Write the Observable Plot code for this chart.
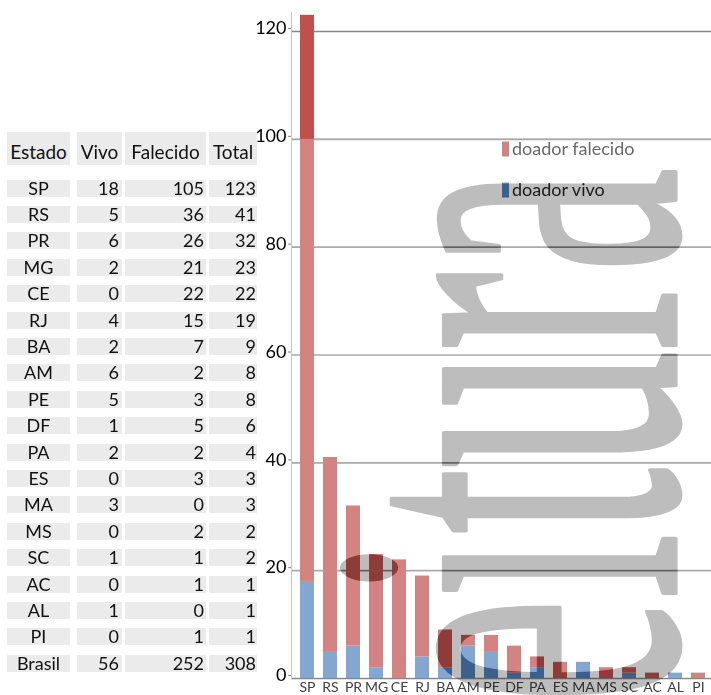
<!DOCTYPE html>
<html><head><meta charset="utf-8">
<script src="https://cdn.jsdelivr.net/npm/d3@7"></script>
<script src="https://cdn.jsdelivr.net/npm/@observablehq/plot@0.6"></script>
<style>
body{margin:0;background:#fff;}
#wrap{position:relative;width:711px;height:695px;overflow:hidden;font-family:Lato,sans-serif;}
#chart{position:absolute;left:0;top:0;}
.cell{position:absolute;background:#ebebeb;color:#111;font-size:18px;line-height:17px;height:17px;box-sizing:border-box;white-space:nowrap;}
.hcell{position:absolute;background:#ebebeb;color:#111;font-size:19px;line-height:18px;height:33px;box-sizing:border-box;padding-top:11px;white-space:nowrap;}
</style></head>
<body><div id="wrap"><div id="chart"></div><div id="table"></div></div>
<script>
const estados = ["SP","RS","PR","MG","CE","RJ","BA","AM","PE","DF","PA","ES","MA","MS","SC","AC","AL","PI"];
const vivo = [18,5,6,2,0,4,2,6,5,1,2,0,3,0,1,0,1,0];
const falecido = [105,36,26,21,22,15,7,2,3,5,2,3,0,2,1,1,0,1];
const totais = [123,41,32,23,22,19,9,8,8,6,4,3,3,2,2,1,1,1];
const linhaBrasil = ["Brasil",56,252,308];
const cabecalho = ["Estado","Vivo","Falecido","Total"];
const yTicks = [0,20,40,60,80,100,120];
const series = ["doador vivo","doador falecido"];
const seriesCores = ["#4f81bd","#c0504d"];
const marcaDagua = "Leitura";

const rows = [];
estados.forEach((e,i)=>{
  rows.push({estado:e, serie:series[0], valor:vivo[i]});
  rows.push({estado:e, serie:series[1], valor:falecido[i]});
});

const plot = Plot.plot({
  width:711, height:695,
  marginLeft:291, marginRight:0, marginTop:12, marginBottom:17,
  x:{domain:estados, range:[290,714], paddingInner:0.4, paddingOuter:0.2, axis:null},
  y:{domain:[0,120], range:[678,31], axis:null},
  color:{domain:series, range:seriesCores},
  style:{fontFamily:"Lato, sans-serif", background:"white", overflow:"hidden"},
  marks:[
    Plot.ruleY(yTicks, {stroke:"#868686", strokeWidth:1.6}),
    Plot.barY(rows, {x:"estado", y:"valor", fill:"serie"}),
    Plot.frame({anchor:"left", stroke:"#c4c4c4"}),
    Plot.axisY(yTicks, {tickSize:3, tickPadding:2, fontSize:18, color:"#000", stroke:"#868686", dy:-3, label:null}),
    Plot.axisX({tickSize:0, tickPadding:4, fontSize:14, color:"#404040", label:null})
  ]
});
document.getElementById("chart").appendChild(plot);

// legend, overlay and watermark
const svg = d3.select(plot);
const ys = plot.scale("y");
const leg = svg.append("g").attr("text-anchor","start");
const legItems = [series[1], series[0]];
legItems.forEach((s,i)=>{
  const cy = 149 + i*41;
  leg.append("rect").attr("x",502).attr("y",cy-7.5).attr("width",7).attr("height",15)
     .attr("fill", seriesCores[series.indexOf(s)]);
  leg.append("text").attr("x",512).attr("y",cy).attr("dy","0.35em").attr("text-anchor","start")
     .attr("font-size",18).attr("fill","#262626").attr("font-family","Lato, sans-serif").text(s);
});

// fit the watermark glyph ink to its place in the picture
const WM_FONT = "'Liberation Serif', serif";
const FS = 200;
const SW = 4;
const ctx = document.createElement("canvas").getContext("2d");
ctx.font = FS + "px " + WM_FONT;
const mAll = ctx.measureText(marcaDagua);
const wFirst = ctx.measureText(marcaDagua[0]).width;
const mE = ctx.measureText(marcaDagua[1]);
const mU = ctx.measureText("u");
const eStart = wFirst - mE.actualBoundingBoxLeft;
const aEnd = mAll.actualBoundingBoxRight;
const inkStartY = 697 - SW/2, inkEndY = 168 + SW/2, baseX = 677 - SW/2, xHeightX = 442 + SW/2;
const sA = (inkStartY - inkEndY) / (aEnd - eStart);
const sP = (baseX - xHeightX) / mU.actualBoundingBoxAscent;
const ty = inkEndY + sA * aEnd;
const wmTransform = `translate(${baseX},${ty}) rotate(-90) scale(${sA},${sP})`;

function wmText(sel, color){
  return sel.append("text").attr("transform",wmTransform).attr("text-anchor","start")
    .attr("font-family",WM_FONT).attr("font-size",FS).attr("fill",color)
    .attr("stroke",color).attr("stroke-width",SW).attr("stroke-linejoin","round")
    .attr("vector-effect","non-scaling-stroke").text(marcaDagua);
}

const defs = svg.append("defs");
const mask = defs.append("mask").attr("id","wmmask").attr("maskUnits","userSpaceOnUse")
  .attr("x",0).attr("y",0).attr("width",711).attr("height",695);
mask.append("rect").attr("x",0).attr("y",0).attr("width",711).attr("height",695).attr("fill","white");
wmText(mask, "black");

svg.append("rect").attr("x",292).attr("y",ys.apply(100)).attr("width",711-292)
  .attr("height",ys.apply(0)-ys.apply(100)).attr("fill","white").attr("fill-opacity",0.3)
  .attr("mask","url(#wmmask)");

wmText(svg, "#bdbdbd").style("mix-blend-mode","multiply");

// table
const tbl = document.getElementById("table");
const cols = [
  {left:7, width:63, align:"center", pad:0},
  {left:77, width:45, align:"right", pad:3},
  {left:125, width:81, align:"right", pad:2},
  {left:209, width:48, align:"right", pad:1}
];
cabecalho.forEach((h,j)=>{
  const d = document.createElement("div");
  d.className = "hcell";
  d.style.left = cols[j].left+"px"; d.style.width = cols[j].width+"px";
  d.style.top = "132px"; d.style.textAlign = "center";
  d.textContent = h;
  tbl.appendChild(d);
});
const tableRows = estados.map((e,i)=>[e, vivo[i], falecido[i], totais[i]]).concat([linhaBrasil]);
tableRows.forEach((r,i)=>{
  const cy = 188 + i*26.4;
  r.forEach((v,j)=>{
    const d = document.createElement("div");
    d.className = "cell";
    d.style.left = cols[j].left+"px"; d.style.width = cols[j].width+"px";
    d.style.top = (cy-8.5)+"px"; d.style.textAlign = cols[j].align;
    d.style.paddingRight = cols[j].pad+"px";
    d.textContent = v;
    tbl.appendChild(d);
  });
});
</script>
</body></html>
